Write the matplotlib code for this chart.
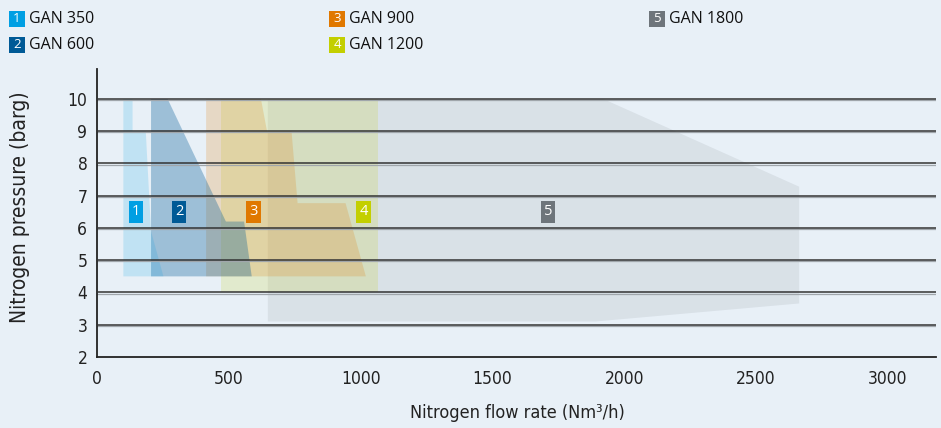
import matplotlib
matplotlib.use("Agg")
import matplotlib.pyplot as plt
from matplotlib.patches import Polygon, Rectangle
from matplotlib import font_manager

# ---- data ----
models = ["GAN 350", "GAN 600", "GAN 900", "GAN 1200", "GAN 1800"]
numbers = ["1", "2", "3", "4", "5"]
box_colors = ["#009fe3", "#005a96", "#e07800", "#c3cf00", "#6e757b"]
fill_alphas = [0.17, 0.32, 0.2, 0.17, 0.12]

# operating envelopes (flow Nm3/h, pressure barg)
gan350_flow = [100, 100, 135, 135, 185, 205, 252, 252]
gan350_pres = [4.5, 10, 10, 9, 9, 5.9, 4.5, 4.5]
gan600_flow = [205, 205, 268, 489, 558, 587]
gan600_pres = [4.5, 10, 10, 6.2, 6.2, 4.5]
gan900_flow = [414, 414, 622, 645, 738, 761, 943, 1020]
gan900_pres = [4.5, 10, 10, 9, 9, 6.77, 6.77, 4.5]
gan1200_flow = [470, 470, 1065, 1065]
gan1200_pres = [4.0, 10, 10, 4.0]
gan1800_flow = [648, 648, 1921, 2664, 2664, 1890]
gan1800_pres = [3.1, 10, 10, 7.28, 3.66, 3.1]

label_flow = [148, 311, 594, 1011, 1711]
label_pres = [6.5, 6.5, 6.5, 6.5, 6.5]

x_ticks = [0, 500, 1000, 1500, 2000, 2500, 3000]
y_ticks = [2, 3, 4, 5, 6, 7, 8, 9, 10]

envelopes = [
    (gan350_flow, gan350_pres),
    (gan600_flow, gan600_pres),
    (gan900_flow, gan900_pres),
    (gan1200_flow, gan1200_pres),
    (gan1800_flow, gan1800_pres),
]

BG = "#e8f0f7"
narrow_fp = font_manager.FontProperties(family="DejaVu Sans", stretch="condensed", size=12.5)
xlabel_fp = font_manager.FontProperties(family="DejaVu Sans", stretch="condensed", size=13)
ylabel_fp = font_manager.FontProperties(family="DejaVu Sans", stretch="condensed", size=15)
legend_font = ["Open Sans", "DejaVu Sans"]

fig = plt.figure(figsize=(9.41, 4.28), dpi=100, facecolor=BG)
ax = fig.add_axes([97 / 941, 1 - 357 / 428, (936 - 97) / 941, (357 - 69) / 428])
ax.set_facecolor(BG)
ax.set_xlim(0, 3183)
ax.set_ylim(2, 10.93)

# fills: draw largest first
for i in [4, 3, 2, 1, 0]:
    fx, fy = envelopes[i]
    poly = Polygon(list(zip(fx, fy)), closed=True, facecolor=box_colors[i],
                   alpha=fill_alphas[i], edgecolor="none", zorder=1)
    ax.add_patch(poly)

# gridlines (dark line with lighter shadow)
for y in y_ticks[1:]:
    ax.axhline(y - 0.032, color="#a0a6ab", lw=0.9, zorder=2)
    ax.axhline(y, color="#333333", lw=1.1, zorder=3)

# label boxes
for i in range(5):
    ax.text(label_flow[i], label_pres[i], numbers[i], ha="center", va="center",
            color="white", fontsize=10.5, family=legend_font, zorder=5,
            bbox=dict(boxstyle="square,pad=0.22", facecolor=box_colors[i], edgecolor="none"))

for s in ["top", "right"]:
    ax.spines[s].set_visible(False)
for s in ["left", "bottom"]:
    ax.spines[s].set_color("#222222")
    ax.spines[s].set_linewidth(1.3)

ax.set_xticks(x_ticks)
ax.set_yticks(y_ticks)
ax.tick_params(length=0, colors="#222222")
ax.tick_params(axis="x", pad=9)
ax.tick_params(axis="y", pad=7)
for lab in ax.get_xticklabels() + ax.get_yticklabels():
    lab.set_fontproperties(narrow_fp)

fig.text(517 / 941, 1 - 413 / 428, "Nitrogen flow rate (Nm³/h)", ha="center", va="center",
         fontproperties=xlabel_fp, color="#222222")
fig.text(20 / 941, 1 - 207 / 428, "Nitrogen pressure (barg)", ha="center", va="center",
         rotation=90, fontproperties=ylabel_fp, color="#222222")

# legend
leg_pos = [(9, 19), (9, 45), (329, 19), (329, 45), (649, 19)]
for i, (px, py) in enumerate(leg_pos):
    fig.patches.append(Rectangle((px / 941, 1 - (py + 8) / 428), 16 / 941, 16 / 428,
                                 transform=fig.transFigure, facecolor=box_colors[i],
                                 edgecolor="none"))
    fig.text((px + 8) / 941, 1 - py / 428, numbers[i], ha="center", va="center",
             color="white", fontsize=9.5, family=legend_font)
    fig.text((px + 20) / 941, 1 - py / 428, models[i], ha="left", va="center",
             color="#111111", fontsize=11.5, family=legend_font)

fig.savefig("out.png", dpi=100, facecolor=BG)
